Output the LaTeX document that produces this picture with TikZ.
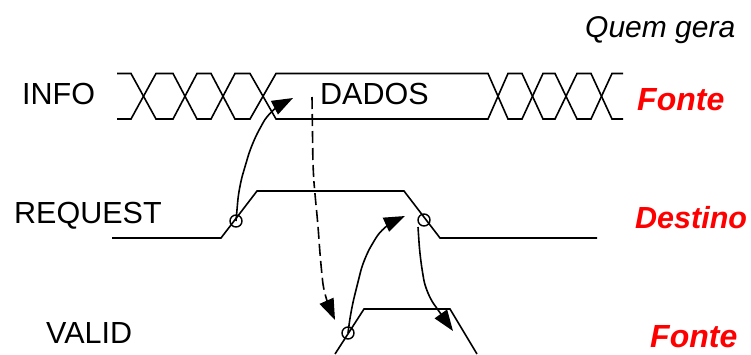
\documentclass[tikz,border=0pt]{standalone}
\usepackage{fontspec}
\setmainfont{Liberation Sans}
\usetikzlibrary{arrows.meta}
\begin{document}
\begin{tikzpicture}[x=1pt,y=-1pt,
  wave/.style={line width=1.6pt,line join=miter,black},
  lbl/.style={anchor=base west,inner sep=0pt,font=\fontsize{30.5}{32}\selectfont},
  src/.style={anchor=base west,inner sep=0pt,text=red,font=\fontsize{30.5}{32}\selectfont\bfseries\itshape},
  srcw/.style={src,font=\fontsize{32}{34}\selectfont\bfseries\itshape},
  who/.style={anchor=base west,inner sep=0pt,font=\fontsize{30}{32}\selectfont\itshape},
  ring/.style={circle,draw=black,line width=1.4pt,minimum size=12pt,inner sep=0pt},
  link/.style={line width=1.6pt,black,-{Triangle[length=21pt,width=15pt]},rounded corners=14pt},
  dlink/.style={link,dash pattern=on 12pt off 5pt}]
\useasboundingbox (0,0) rectangle (751,354);
\fill[white] (0,0) rectangle (751,354);
% INFO
\draw[wave] (117,73.5)--(131,73.5)--(156,119)--(173,119)--(197,73.5)--(211,73.5)--(235,119)--(250,119)--(276,73.5)--(488,73.5)--(508,119)--(522,119)--(543,73.5)--(555,73.5)--(577,119)--(591,119)--(612,73.5)--(623,73.5);
\draw[wave] (117,119)--(131,119)--(156,73.5)--(173,73.5)--(197,119)--(211,119)--(235,73.5)--(250,73.5)--(276,119)--(488,119)--(508,73.5)--(522,73.5)--(543,119)--(555,119)--(577,73.5)--(591,73.5)--(612,119)--(623,119);
% REQUEST, VALID
\draw[wave] (112,238)--(221,238)--(257,191)--(404,191)--(440,238)--(597,238);
\draw[wave] (335,354)--(364,309)--(450,309)--(477,354);
% labels
\node[who] (quem) at (585,37) {Quem gera};
\node[lbl] (info) at (22,104) {INFO};
\node[lbl] (dados) at (320,104) {DADOS};
\node[lbl] (req) at (14,223) {REQUEST};
\node[lbl] (valid) at (46,343) {VALID};
\node[srcw] (f1) at (637,110) {Fonte};
\node[src] (d1) at (635,228) {Destino};
\node[srcw] (f2) at (650,347) {Fonte};
% rings
\node[ring] (r1) at (236,221) {};
\node[ring] (r2) at (424,220) {};
\node[ring] (r3) at (348,333) {};
% end points
\coordinate (a1) at (293,98);
\coordinate (a2) at (405,216);
\coordinate (a3) at (453,331);
\coordinate (a4) at (335,320);
\coordinate (s3) at (418,227);
\coordinate (s4) at (312,97);
% connectors
\draw[link] (r1.center) -- (239,187) -- (252,143) -- (270,110) -- (a1);
\draw[link] (r3.center) -- (351,310) -- (364,258) -- (383,226) -- (a2);
\draw[link] (s3) -- (420,257) -- (426,293) -- (a3);
\draw[dlink] (s4) -- (313,170) -- (315,195) -- (318,225) -- (320,255) -- (324,295) -- (a4);
\end{tikzpicture}
\end{document}
